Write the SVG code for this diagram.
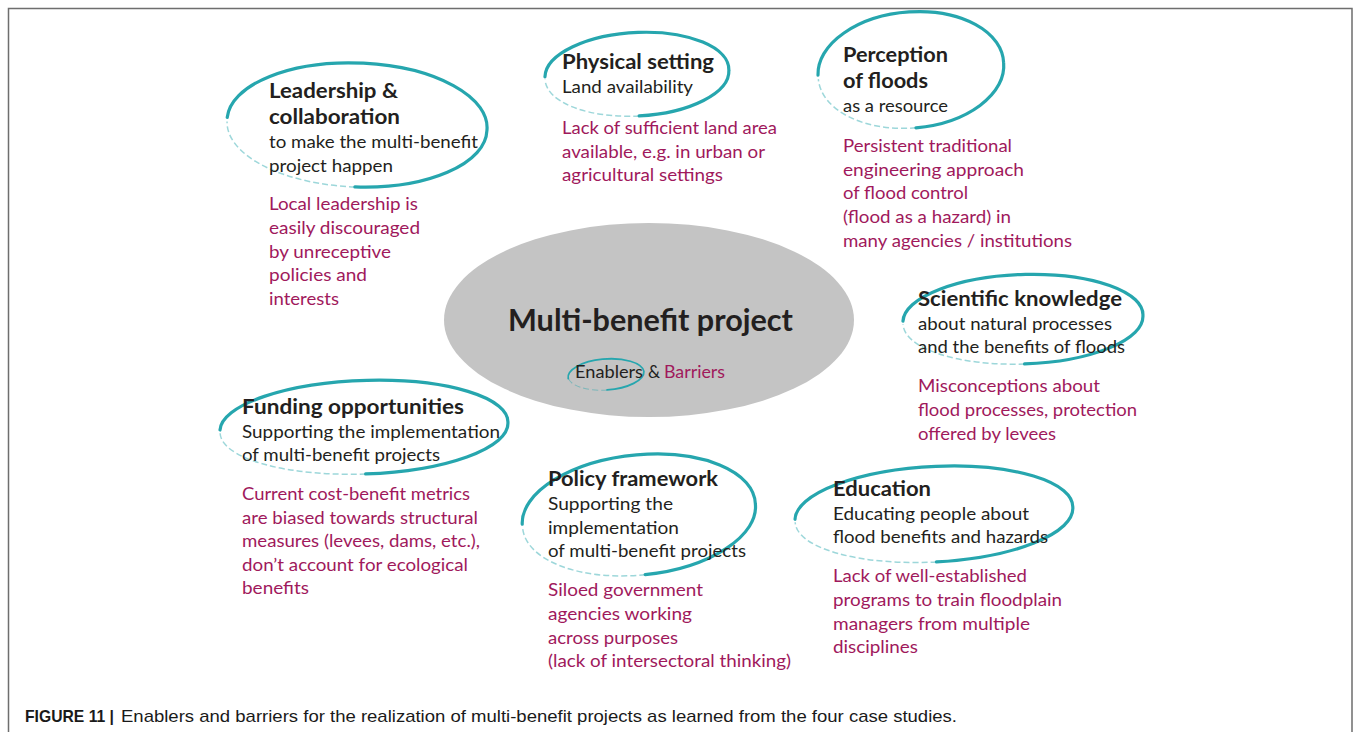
<svg xmlns="http://www.w3.org/2000/svg" width="1354" height="732" viewBox="0 0 1354 732">
<style>
text{font-family:Lato,"Open Sans","Noto Sans",sans-serif}
.h{font-weight:700;font-size:20.5px;fill:#231f20}
.s{font-weight:400;font-size:18px;fill:#231f20}
.b{font-weight:400;font-size:18px;fill:#a0195c}
.arc{fill:none;stroke:#26a6ae;stroke-width:3.2;stroke-linecap:round}
.faint{fill:none;stroke:#26a6ae;stroke-width:1.5;opacity:0.45;stroke-dasharray:6 3}
.cap{font-family:"Liberation Sans",Arial,sans-serif;font-size:17px;fill:#1a1a1a}
</style>
<rect x="0" y="0" width="1354" height="732" fill="#ffffff"/>
<path d="M8.5,732 V8.5 H1352 V732" fill="none" stroke="#6e6e6e" stroke-width="1.5"/>

<g id="center">
<ellipse cx="649" cy="320" rx="205" ry="97" fill="#c4c4c4"/>
<text x="508" y="331" style="font-weight:700;font-size:31px;fill:#231f20" textLength="285" lengthAdjust="spacingAndGlyphs">Multi-benefit project</text>
<g transform="translate(606,374) rotate(-4)">
<path class="arc" style="stroke-width:1.8" d="M-38,2 A38 16 0 0 1 38,0 A38 16 0 0 1 0,16"/>
<path class="faint" style="stroke-width:1" d="M0,16 A38 16 0 0 1 -38,0"/>
</g>
<text y="378" style="font-size:17px"><tspan x="575" fill="#231f20" textLength="68" lengthAdjust="spacingAndGlyphs">Enablers</tspan><tspan x="648" fill="#231f20">&amp;</tspan><tspan x="664" fill="#a0195c" textLength="61" lengthAdjust="spacingAndGlyphs">Barriers</tspan></text>
</g>

<g id="leadership">
<g transform="translate(357,126) rotate(2)">
<path class="arc" d="M-130,-4 A130 61 0 0 1 130,0 A130 61 0 0 1 0,61"/>
<path class="faint" d="M0,61 A130 61 0 0 1 -130,0"/>
</g>
<text class="h" x="269" y="98" textLength="129" lengthAdjust="spacingAndGlyphs">Leadership &amp;</text>
<text class="h" x="269" y="124" textLength="131" lengthAdjust="spacingAndGlyphs">collaboration</text>
<text class="s" x="269" y="148" textLength="209" lengthAdjust="spacingAndGlyphs">to make the multi-benefit</text>
<text class="s" x="269" y="172" textLength="124" lengthAdjust="spacingAndGlyphs">project happen</text>
<text class="b" x="269" y="210" textLength="149" lengthAdjust="spacingAndGlyphs">Local leadership is</text>
<text class="b" x="269" y="234" textLength="151" lengthAdjust="spacingAndGlyphs">easily discouraged</text>
<text class="b" x="269" y="258" textLength="122" lengthAdjust="spacingAndGlyphs">by unreceptive</text>
<text class="b" x="269" y="281" textLength="98" lengthAdjust="spacingAndGlyphs">policies and</text>
<text class="b" x="269" y="305" textLength="70" lengthAdjust="spacingAndGlyphs">interests</text>
</g>

<g id="physical">
<g transform="translate(637,75) rotate(-3)">
<path class="arc" d="M-92,-3 A92 41 0 0 1 92,0 A92 41 0 0 1 0,41"/>
<path class="faint" d="M0,41 A92 41 0 0 1 -92,0"/>
</g>
<text class="h" x="562" y="69" textLength="152" lengthAdjust="spacingAndGlyphs">Physical setting</text>
<text class="s" x="562" y="93" textLength="131" lengthAdjust="spacingAndGlyphs">Land availability</text>
<text class="b" x="562" y="134" textLength="215" lengthAdjust="spacingAndGlyphs">Lack of sufficient land area</text>
<text class="b" x="562" y="158" textLength="203" lengthAdjust="spacingAndGlyphs">available, e.g. in urban or</text>
<text class="b" x="562" y="181" textLength="161" lengthAdjust="spacingAndGlyphs">agricultural settings</text>
</g>

<g id="perception">
<g transform="translate(911,71) rotate(-5)">
<path class="arc" d="M-93,-4 A93 57 0 0 1 93,0 A93 57 0 0 1 0,57"/>
<path class="faint" d="M0,57 A93 57 0 0 1 -93,0"/>
</g>
<text class="h" x="843" y="62" textLength="105" lengthAdjust="spacingAndGlyphs">Perception</text>
<text class="h" x="843" y="88" textLength="85" lengthAdjust="spacingAndGlyphs">of floods</text>
<text class="s" x="843" y="112" textLength="105" lengthAdjust="spacingAndGlyphs">as a resource</text>
<text class="b" x="843" y="152" textLength="169" lengthAdjust="spacingAndGlyphs">Persistent traditional</text>
<text class="b" x="843" y="176" textLength="181" lengthAdjust="spacingAndGlyphs">engineering approach</text>
<text class="b" x="843" y="199" textLength="125" lengthAdjust="spacingAndGlyphs">of flood control</text>
<text class="b" x="843" y="223" textLength="168" lengthAdjust="spacingAndGlyphs">(flood as a hazard) in</text>
<text class="b" x="843" y="247" textLength="229" lengthAdjust="spacingAndGlyphs">many agencies / institutions</text>
</g>

<g id="scientific">
<g transform="translate(1023,320) rotate(-2)">
<path class="arc" d="M-120,-3 A120 44 0 0 1 120,0 A120 44 0 0 1 0,44"/>
<path class="faint" d="M0,44 A120 44 0 0 1 -120,0"/>
</g>
<text class="h" x="918" y="306" textLength="204" lengthAdjust="spacingAndGlyphs">Scientific knowledge</text>
<text class="s" x="918" y="330" textLength="194" lengthAdjust="spacingAndGlyphs">about natural processes</text>
<text class="s" x="918" y="353" textLength="207" lengthAdjust="spacingAndGlyphs">and the benefits of floods</text>
<text class="b" x="918" y="392" textLength="182" lengthAdjust="spacingAndGlyphs">Misconceptions about</text>
<text class="b" x="918" y="416" textLength="219" lengthAdjust="spacingAndGlyphs">flood processes, protection</text>
<text class="b" x="918" y="440" textLength="138" lengthAdjust="spacingAndGlyphs">offered by levees</text>
</g>

<g id="funding">
<g transform="translate(364,428) rotate(-2)">
<path class="arc" d="M-144,-3 A144 46 0 0 1 144,0 A144 46 0 0 1 0,46"/>
<path class="faint" d="M0,46 A144 46 0 0 1 -144,0"/>
</g>
<text class="h" x="242" y="414" textLength="222" lengthAdjust="spacingAndGlyphs">Funding opportunities</text>
<text class="s" x="242" y="438" textLength="258" lengthAdjust="spacingAndGlyphs">Supporting the implementation</text>
<text class="s" x="242" y="461" textLength="198" lengthAdjust="spacingAndGlyphs">of multi-benefit projects</text>
<text class="b" x="242" y="500" textLength="228" lengthAdjust="spacingAndGlyphs">Current cost-benefit metrics</text>
<text class="b" x="242" y="524" textLength="236" lengthAdjust="spacingAndGlyphs">are biased towards structural</text>
<text class="b" x="242" y="547" textLength="238" lengthAdjust="spacingAndGlyphs">measures (levees, dams, etc.),</text>
<text class="b" x="242" y="571" textLength="226" lengthAdjust="spacingAndGlyphs">don’t account for ecological</text>
<text class="b" x="242" y="594" textLength="67" lengthAdjust="spacingAndGlyphs">benefits</text>
</g>

<g id="policy">
<g transform="translate(639,516) rotate(-6)">
<path class="arc" d="M-117,-4 A117 59 0 0 1 117,0 A117 59 0 0 1 0,59"/>
<path class="faint" d="M0,59 A117 59 0 0 1 -117,0"/>
</g>
<text class="h" x="548" y="486" textLength="170" lengthAdjust="spacingAndGlyphs">Policy framework</text>
<text class="s" x="548" y="510" textLength="125" lengthAdjust="spacingAndGlyphs">Supporting the</text>
<text class="s" x="548" y="534" textLength="131" lengthAdjust="spacingAndGlyphs">implementation</text>
<text class="s" x="548" y="557" textLength="198" lengthAdjust="spacingAndGlyphs">of multi-benefit projects</text>
<text class="b" x="548" y="596" textLength="155" lengthAdjust="spacingAndGlyphs">Siloed government</text>
<text class="b" x="548" y="620" textLength="144" lengthAdjust="spacingAndGlyphs">agencies working</text>
<text class="b" x="548" y="644" textLength="130" lengthAdjust="spacingAndGlyphs">across purposes</text>
<text class="b" x="548" y="667" textLength="243" lengthAdjust="spacingAndGlyphs">(lack of intersectoral thinking)</text>
</g>

<g id="education">
<g transform="translate(934,515) rotate(-3)">
<path class="arc" d="M-139,-3 A139 47 0 0 1 139,0 A139 47 0 0 1 0,47"/>
<path class="faint" d="M0,47 A139 47 0 0 1 -139,0"/>
</g>
<text class="h" x="833" y="496" textLength="98" lengthAdjust="spacingAndGlyphs">Education</text>
<text class="s" x="833" y="520" textLength="196" lengthAdjust="spacingAndGlyphs">Educating people about</text>
<text class="s" x="833" y="543" textLength="215" lengthAdjust="spacingAndGlyphs">flood benefits and hazards</text>
<text class="b" x="833" y="582" textLength="194" lengthAdjust="spacingAndGlyphs">Lack of well-established</text>
<text class="b" x="833" y="606" textLength="229" lengthAdjust="spacingAndGlyphs">programs to train floodplain</text>
<text class="b" x="833" y="630" textLength="197" lengthAdjust="spacingAndGlyphs">managers from multiple</text>
<text class="b" x="833" y="653" textLength="85" lengthAdjust="spacingAndGlyphs">disciplines</text>
</g>

<g id="connectors"></g>

<g id="caption">
<text class="cap" y="722"><tspan x="25" style="font-weight:700" textLength="89" lengthAdjust="spacingAndGlyphs">FIGURE 11 |</tspan><tspan x="121" textLength="836" lengthAdjust="spacingAndGlyphs">Enablers and barriers for the realization of multi-benefit projects as learned from the four case studies.</tspan></text>
</g>
</svg>
